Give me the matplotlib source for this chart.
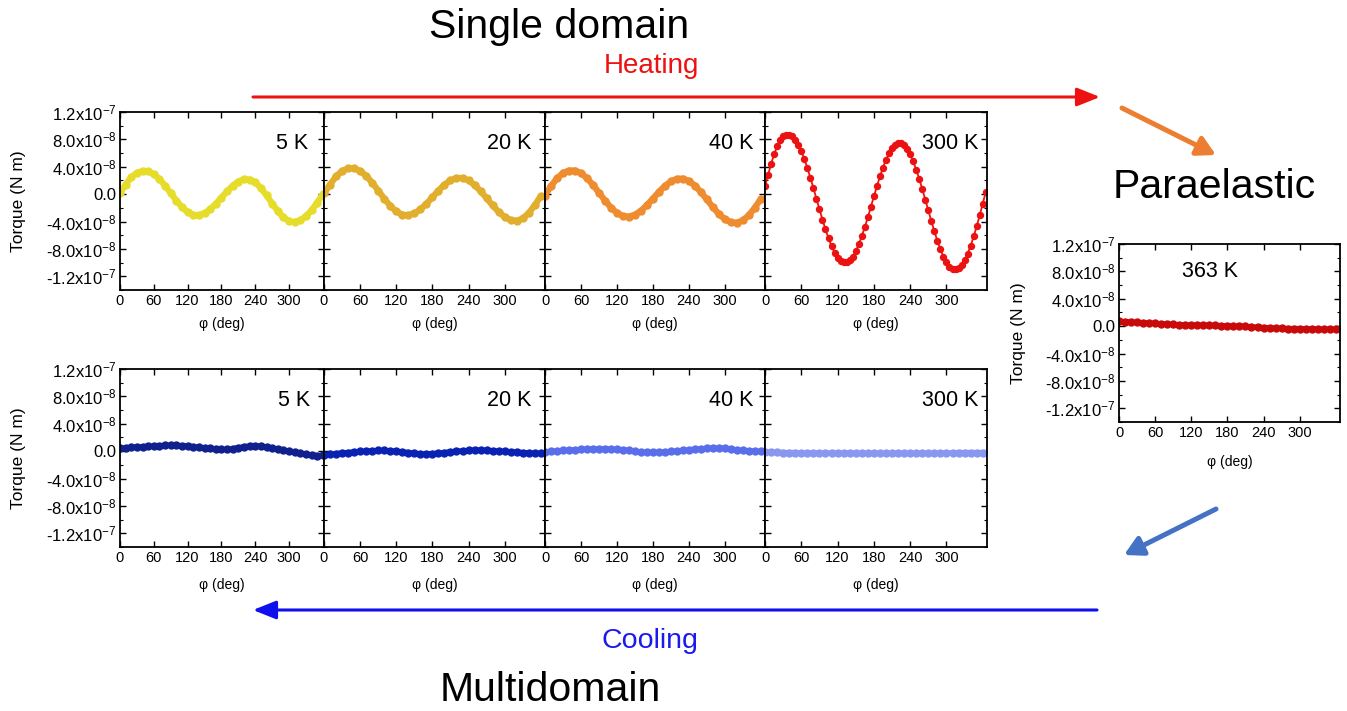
import numpy as np
import matplotlib.pyplot as plt
from matplotlib.ticker import MultipleLocator

plt.rcParams['font.family'] = ['Liberation Sans', 'DejaVu Sans']
plt.rcParams['mathtext.fontset'] = 'custom'
plt.rcParams['mathtext.rm'] = 'Liberation Sans'
plt.rcParams['mathtext.it'] = 'Liberation Sans:italic'

W, H = 1347, 711

# angle grids (deg)
phi = np.arange(0, 361, 10)
phi_fine = np.arange(0, 366, 5)

# torque values, in units of 1e-8 N m
# heating (single domain)
heat_5K = [0.2, 1.4, 2.5, 3.1, 3.4, 3.33, 2.93, 2.20, 1.24, 0.15, -0.94, -1.90, -2.63,
           -3.03, -3.07, -2.78, -2.20, -1.41, -0.50, 0.42, 1.24, 1.84, 2.16, 2.14, 1.71,
           0.89, -0.18, -1.37, -2.49, -3.40, -3.96, -4.09, -3.83, -3.23, -2.33, -1.22, 0.0]
heat_20K = [0.1, 1.4, 2.6, 3.4, 3.75, 3.77, 3.40, 2.68, 1.68, 0.53, -0.65, -1.71, -2.52,
            -3.00, -3.08, -2.81, -2.23, -1.40, -0.45, 0.52, 1.38, 2.02, 2.36, 2.36, 2.00,
            1.34, 0.44, -0.59, -1.64, -2.59, -3.34, -3.79, -3.89, -3.55, -2.76, -1.62, -0.28]
heat_40K = [-0.2, 1.2, 2.3, 3.1, 3.45, 3.45, 3.07, 2.34, 1.35, 0.22, -0.93, -1.96, -2.74,
            -3.20, -3.28, -3.01, -2.43, -1.61, -0.65, 0.33, 1.20, 1.86, 2.24, 2.27, 1.93,
            1.25, 0.30, -0.78, -1.89, -2.89, -3.66, -4.11, -4.18, -3.83, -3.07, -1.98, -0.69]
heat_300K = [1.2, 2.8, 4.4, 5.8, 7.0, 7.9, 8.5, 8.7, 8.7,
             8.45, 7.96, 7.23, 6.29, 5.15, 3.85, 2.41, 0.91, -0.65, -2.21, -3.71, -5.15,
             -6.45, -7.59, -8.53, -9.26, -9.75, -9.98,
             -9.96, -9.66, -9.12, -8.33, -7.33, -6.14, -4.81, -3.37, -1.86, -0.33, 1.16, 2.58,
             3.89, 5.04, 6.00, 6.75, 7.24, 7.48,
             7.45, 7.16, 6.60, 5.81, 4.79, 3.58, 2.22, 0.75, -0.80, -2.38, -3.94, -5.44,
             -6.83, -8.06, -9.11, -9.96, -10.57, -10.92,
             -11.0, -10.8, -10.35, -9.63, -8.69, -7.53, -6.18, -4.69, -3.07, -1.38, 0.35]
# paraelastic
para_363K = [0.7, 0.65, 0.6, 0.55, 0.5, 0.45, 0.4, 0.35, 0.3, 0.25, 0.2, 0.2, 0.15, 0.15,
             0.15, 0.1, 0.1, 0.05, 0.05, 0.0, 0.0, -0.05, -0.1, -0.15, -0.2, -0.25, -0.3,
             -0.3, -0.35, -0.35, -0.35, -0.4, -0.4, -0.4, -0.45, -0.45, -0.45]
# cooling (multidomain)
cool_5K = [0.45, 0.5, 0.55, 0.6, 0.65, 0.7, 0.75, 0.8, 0.85, 0.85, 0.85, 0.8, 0.75, 0.65,
           0.55, 0.45, 0.4, 0.3, 0.25, 0.25, 0.35, 0.5, 0.65, 0.75, 0.75, 0.7, 0.6, 0.45,
           0.3, 0.15, 0.0, -0.15, -0.3, -0.45, -0.55, -0.65, -0.6]
cool_20K = [-0.55, -0.45, -0.35, -0.25, -0.2, -0.1, -0.05, 0.0, 0.05, 0.1, 0.1, 0.05, 0.0,
            -0.1, -0.2, -0.3, -0.4, -0.4, -0.35, -0.3, -0.2, -0.1, 0.0, 0.05, 0.1, 0.15,
            0.15, 0.1, 0.05, 0.0, -0.05, -0.1, -0.15, -0.2, -0.25, -0.3, -0.3]
cool_40K = [-0.15, -0.05, 0.05, 0.1, 0.15, 0.2, 0.25, 0.3, 0.35, 0.35, 0.35, 0.3, 0.25, 0.2,
            0.1, 0.0, -0.1, -0.15, -0.15, -0.15, -0.1, -0.05, 0.0, 0.1, 0.2, 0.3, 0.35,
            0.4, 0.45, 0.45, 0.4, 0.3, 0.2, 0.1, 0.05, 0.0, -0.05]
cool_300K = [-0.15, -0.15, -0.15, -0.2, -0.2, -0.2, -0.25, -0.25, -0.25, -0.25, -0.25,
             -0.25, -0.25, -0.25, -0.25, -0.3, -0.3, -0.3, -0.3, -0.3, -0.3, -0.3, -0.3,
             -0.3, -0.3, -0.3, -0.3, -0.3, -0.3, -0.25, -0.25, -0.25, -0.2, -0.2, -0.2,
             -0.2, -0.2]

xticks = [0, 60, 120, 180, 240, 300]
yticks = [-1.2e-7, -8e-8, -4e-8, 0, 4e-8, 8e-8, 1.2e-7]
ylabels = ['-1.2x10$^{-7}$', '-8.0x10$^{-8}$', '-4.0x10$^{-8}$', '0.0',
           '4.0x10$^{-8}$', '8.0x10$^{-8}$', '1.2x10$^{-7}$']


def box(x0, y0, x1, y1):
    return [x0 / W, 1 - y1 / H, (x1 - x0) / W, (y1 - y0) / H]


def panel(rect, xmax, label, lx, ly=0.825, ha='right', first=False, xl_y=-0.225):
    ax = fig.add_axes(box(*rect))
    ax.set_xlim(0, xmax)
    ax.set_ylim(-1.4e-7, 1.2e-7)
    ax.set_xticks(xticks)
    ax.set_yticks(yticks)
    ax.yaxis.set_minor_locator(MultipleLocator(2e-8))
    ax.tick_params(direction='in', top=True, right=True, length=4.5, width=1,
                   labelsize=10.5, pad=3, labelleft=first)
    ax.tick_params(axis='y', labelsize=12, pad=2.5)
    ax.tick_params(axis='y', which='minor', direction='in', left=True, right=True,
                   length=2.5, width=0.8)
    if first:
        ax.set_yticklabels(ylabels)
        ax.text(-101 / (rect[2] - rect[0]), 0.5, 'Torque (N m)', rotation=90,
                ha='center', va='center', fontsize=12.5, transform=ax.transAxes)
    for s in ax.spines.values():
        s.set_linewidth(1.3)
    ax.text(lx, ly, label, ha=ha, va='center', fontsize=15.5, transform=ax.transAxes)
    ax.text(0.5, xl_y, 'φ (deg)', ha='center', va='center', fontsize=10,
            transform=ax.transAxes)
    return ax


def band(ax, x, y, color, ms=5, lw=4.5):
    ax.plot(x, np.array(y) * 1e-8, color=color, lw=lw, marker='o', ms=ms,
            mec=color, mfc=color, solid_capstyle='round')


fig = plt.figure(figsize=(13.47, 7.11), dpi=100)

cols = [(120, 324, 362), (324, 545, 367), (545, 765, 367), (765, 987, 367)]
lx_top = [0.92, 0.94, 0.947, 0.96]
lx_bot = [0.93, 0.94, 0.945, 0.96]
temps = ['5 K', '20 K', '40 K', '300 K']

top = []
bot = []
for i, (x0, x1, xm) in enumerate(cols):
    top.append(panel((x0, 112, x1, 290), xm, temps[i], lx_top[i], first=(i == 0),
                     xl_y=-0.19))
    bot.append(panel((x0, 369, x1, 547), xm, temps[i], lx_bot[i], first=(i == 0),
                     xl_y=-0.215))

band(top[0], phi, heat_5K, '#e6dc2a')
band(top[1], phi, heat_20K, '#e1af2d')
band(top[2], phi, heat_40K, '#ef8c30')
top[3].plot(phi_fine, np.array(heat_300K) * 1e-8, color='#ec1212', lw=1.3,
            marker='o', ms=4.3)

band(bot[0], phi, cool_5K, '#10208c', lw=3.8)
band(bot[1], phi, cool_20K, '#0a22b4', lw=3.8)
band(bot[2], phi, cool_40K, '#5a6eeb', lw=3.8)
band(bot[3], phi, cool_300K, '#8898f0', lw=3.8)

right = panel((1119, 244, 1340, 422), 367, '363 K', 0.41, ly=0.845, ha='center',
              first=True, xl_y=-0.225)
band(right, phi, para_363K, '#c80a0a', lw=3.8)

# overlay for titles and arrows, in pixel coordinates
ov = fig.add_axes([0, 0, 1, 1])
ov.set_xlim(0, W)
ov.set_ylim(H, 0)
ov.axis('off')
ov.patch.set_alpha(0)

ov.text(559, 27, 'Single domain', ha='center', va='center', fontsize=29.5)
ov.text(651, 66, 'Heating', ha='center', va='center', fontsize=20, color='#ee1111')
ov.text(1214, 187, 'Paraelastic', ha='center', va='center', fontsize=29.5)
ov.text(650, 641, 'Cooling', ha='center', va='center', fontsize=20.5, color='#1a1aee')
ov.text(550, 690, 'Multidomain', ha='center', va='center', fontsize=29.5)

ov.annotate('', xy=(1100, 97), xytext=(253, 97),
            arrowprops=dict(arrowstyle='-|>,head_length=0.7,head_width=0.28',
                            color='#ee1111', lw=2.2, mutation_scale=20, shrinkA=0, shrinkB=0))
ov.annotate('', xy=(253, 610), xytext=(1097, 610),
            arrowprops=dict(arrowstyle='-|>,head_length=0.7,head_width=0.28',
                            color='#1010ee', lw=2.2, mutation_scale=20, shrinkA=0, shrinkB=0))
ov.annotate('', xy=(1216, 155), xytext=(1122, 108),
            arrowprops=dict(arrowstyle='-|>,head_length=0.55,head_width=0.3',
                            color='#ed7d31', lw=3.6, mutation_scale=20, shrinkA=0, shrinkB=0))
ov.annotate('', xy=(1124, 555), xytext=(1216, 509),
            arrowprops=dict(arrowstyle='-|>,head_length=0.55,head_width=0.3',
                            color='#4472c4', lw=3.6, mutation_scale=20, shrinkA=0, shrinkB=0))

fig.savefig('out.png', dpi=100)
